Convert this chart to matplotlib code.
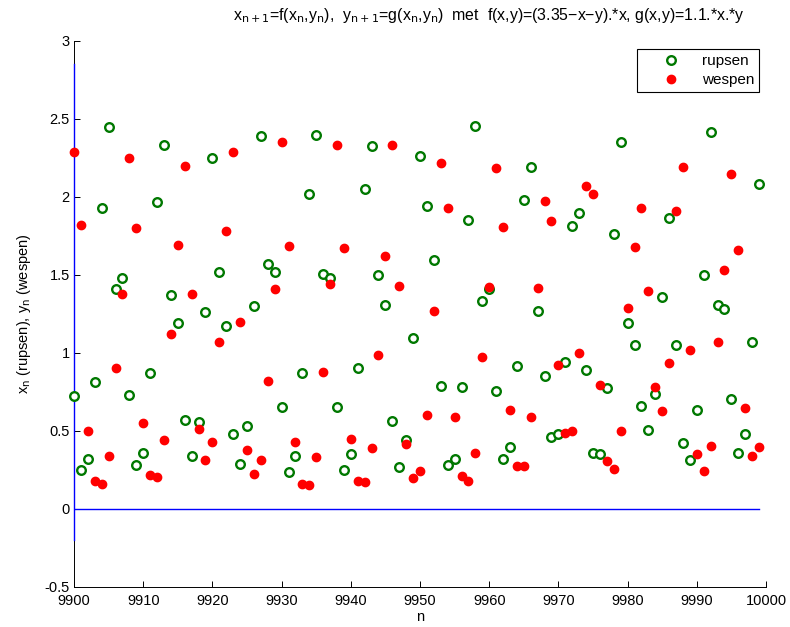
import numpy as np
import matplotlib
matplotlib.use("Agg")
import matplotlib.pyplot as plt

plt.rcParams['font.family'] = ['Liberation Sans', 'DejaVu Sans']

n = np.arange(9900, 10000)

rupsen = [
    0.72, 0.25, 0.32, 0.81, 1.926, 2.45, 1.41, 1.48, 0.73, 0.28,
    0.358, 0.87, 1.97, 2.33, 1.37, 1.19, 0.57, 0.34, 0.555, 1.264,
    2.25, 1.52, 1.17, 0.48, 0.287, 0.533, 1.30, 2.39, 1.57, 1.52,
    0.65, 0.233, 0.336, 0.87, 2.02, 2.40, 1.508, 1.478, 0.654, 0.246,
    0.353, 0.90, 2.05, 2.327, 1.50, 1.307, 0.56, 0.265, 0.44, 1.097,
    2.26, 1.94, 1.596, 0.79, 0.281, 0.321, 0.784, 1.853, 2.457, 1.33,
    1.41, 0.758, 0.319, 0.394, 0.913, 1.98, 2.19, 1.268, 0.853, 0.458,
    0.48, 0.943, 1.814, 1.894, 0.893, 0.358, 0.351, 0.775, 1.761, 2.354,
    1.193, 1.048, 0.658, 0.508, 0.733, 1.358, 1.862, 1.05, 0.422, 0.313,
    0.636, 1.50, 2.414, 1.305, 1.283, 0.705, 0.355, 0.478, 1.067, 2.08,
]

wespen = [
    2.29, 1.82, 0.50, 0.178, 0.16, 0.336, 0.90, 1.38, 2.25, 1.80,
    0.55, 0.214, 0.206, 0.44, 1.12, 1.69, 2.196, 1.38, 0.514, 0.31,
    0.43, 1.07, 1.78, 2.286, 1.20, 0.375, 0.22, 0.31, 0.82, 1.41,
    2.35, 1.684, 0.43, 0.16, 0.15, 0.334, 0.874, 1.44, 2.33, 1.673,
    0.45, 0.176, 0.174, 0.388, 0.985, 1.624, 2.33, 1.43, 0.416, 0.20,
    0.24, 0.60, 1.268, 2.217, 1.926, 0.589, 0.208, 0.176, 0.36, 0.972,
    1.42, 2.183, 1.808, 0.634, 0.274, 0.274, 0.59, 1.418, 1.975, 1.844,
    0.921, 0.484, 0.499, 0.998, 2.067, 2.02, 0.795, 0.304, 0.257, 0.497,
    1.29, 1.68, 1.928, 1.397, 0.778, 0.63, 0.934, 1.907, 2.19, 1.02,
    0.351, 0.244, 0.405, 1.071, 1.53, 2.15, 1.66, 0.647, 0.339, 0.396,
]

vline_x = [9900, 9900]
vline_y = [-0.2, 2.85]
hline_x = [9900, 9999]
hline_y = [0, 0]

xticks = np.arange(9900, 10001, 10)
yticks = [-0.5, 0, 0.5, 1, 1.5, 2, 2.5, 3]
yticklabels = ['-0.5', '0', '0.5', '1', '1.5', '2', '2.5', '3']

fig = plt.figure(figsize=(7.9, 6.27), dpi=100)
ax = fig.add_axes([74/790, 1-586.7/627, (766-74)/790, (586.7-41)/627])

ax.plot(vline_x, vline_y, color=(0, 0, 1), lw=1.0, zorder=3, clip_on=False)
ax.plot(hline_x, hline_y, color=(0, 0, 1), lw=1.0, zorder=3)

green = (0, 0.47, 0)
ax.plot(n, rupsen, 'o', mfc='white', mec=green, mew=1.7, ms=6.2,
        ls='none', label='rupsen', zorder=4, clip_on=False)
ax.plot(n, wespen, 'o', mfc='red', mec='red', ms=6.0,
        ls='none', label='wespen', zorder=5, clip_on=False)

ax.set_xlim(9900, 10000)
ax.set_ylim(-0.5, 3)
ax.set_xticks(xticks)
ax.set_xticklabels([str(v) for v in xticks])
ax.set_yticks(yticks)
ax.set_yticklabels(yticklabels)
ax.tick_params(direction='in', length=4.3, width=0.7, labelsize=10.5)
ax.tick_params(axis='y', pad=3)
ax.tick_params(axis='x', pad=5)

for s in ['top', 'right']:
    ax.spines[s].set_visible(False)
for s in ['left', 'bottom']:
    ax.spines[s].set_linewidth(0.7)

ax.set_xlabel('n', fontsize=10.5, labelpad=2)
ax.set_ylabel(r'x$_{\rm n}$ (rupsen), y$_{\rm n}$ (wespen)', fontsize=10.5, labelpad=8)
ax.set_title(r'x$_{\rm n+1}$=f(x$_{\rm n}$,y$_{\rm n}$),  y$_{\rm n+1}$=g(x$_{\rm n}$,y$_{\rm n}$)  met  '
             'f(x,y)=(3.35\u2212x\u2212y).*x, g(x,y)=1.1.*x.*y',
             fontsize=11.4, pad=15, x=0.6)

leg = ax.legend(loc='upper right', bbox_to_anchor=(759.5/790, 1-48.7/627),
                bbox_transform=fig.transFigure, borderaxespad=0, fancybox=False,
                edgecolor='black', framealpha=1, fontsize=11, handletextpad=0.1,
                borderpad=0.35, labelspacing=0.33, handlelength=3.8)
leg.get_frame().set_linewidth(0.8)

fig.savefig('out.png', dpi=100)
